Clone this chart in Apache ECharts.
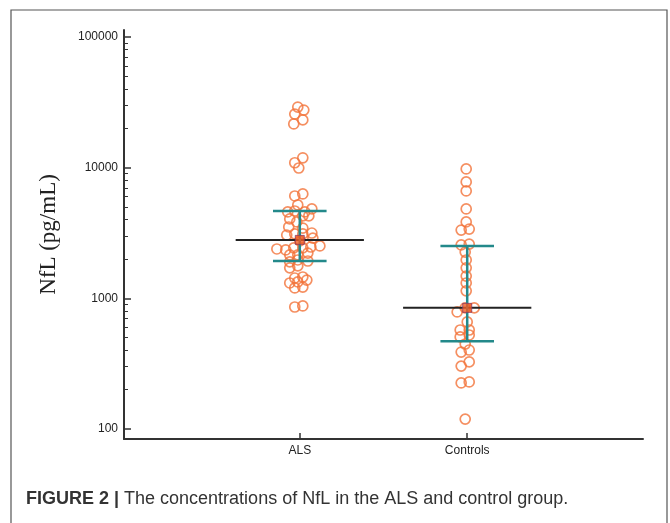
<!DOCTYPE html>
<html>
<head>
<meta charset="utf-8">
<script src="https://cdn.jsdelivr.net/npm/echarts@6/dist/echarts.min.js"></script>
<style>
  html, body { margin: 0; padding: 0; background: #fff; }
  #main { width: 670px; height: 523px; }
</style>
</head>
<body>
<div id="main"></div>
<script>
// groups on the x axis (1 = ALS, 2 = Controls)
var groups = ['ALS', 'Controls'];

// individual NfL values (pg/mL) and horizontal jitter (in group units)
var alsValues = [29100, 27600, 25700, 23200, 21600, 11900, 10900, 9940, 6070, 6290,
    5180, 4580, 4660, 4580, 4830, 4050, 3840, 4270, 4270, 3515,
    3450, 3050, 3110, 3110, 3160, 2890, 2750, 2385, 2344, 2430,
    2430, 2470, 2515, 2150, 2150, 2220, 1900, 1965, 1930, 1710,
    1770, 1430, 1456, 1310, 1334, 1380, 1200, 1220, 858, 874];
var alsJitter = [-0.012, 0.024, -0.03, 0.018, -0.036, 0.018, -0.03, -0.006, -0.03, 0.018,
    -0.012, -0.072, -0.03, 0.03, 0.072, -0.06, -0.018, 0.018, 0.054, -0.066,
    0.018, -0.078, -0.03, 0.018, 0.072, 0.078, 0, -0.137, -0.084, -0.036,
    0.018, 0.066, 0.12, -0.06, -0.012, 0.048, -0.06, -0.012, 0.048, -0.06,
    -0.012, -0.03, 0.018, -0.06, -0.012, 0.042, -0.03, 0.018, -0.03, 0.018];

var ctrlValues = [9770, 7770, 6630, 4830, 3840, 3330, 3390, 2560, 2600, 2260,
    1965, 1710, 1480, 1310, 1140, 844, 844, 786, 659, 572,
    572, 506, 524, 447, 388, 402, 303, 326, 225, 229, 119];
var ctrlJitter = [-0.006, -0.006, -0.006, -0.006, -0.006, -0.036, 0.012, -0.036, 0.012, -0.012,
    -0.006, -0.006, -0.006, -0.006, -0.006, -0.012, 0.042, -0.06, 0, -0.042,
    0.012, -0.042, 0.012, -0.012, -0.036, 0.012, -0.036, 0.012, -0.036, 0.012, -0.012];

// summary statistics per group: median and interquartile range
var medians = [2800, 845];
var q1 = [1930, 470];
var q3 = [4660, 2515];

var majorTicks = [100, 1000, 10000, 100000];
var minorTicks = [];
[100, 1000, 10000].forEach(function (d) {
    for (var k = 2; k <= 9; k++) minorTicks.push(d * k);
});

var ORANGE = '#F3733A';
var TEAL = '#23898A';
var GRID = { left: 124, right: 27, top: 30, bottom: 84 };

function points(values, jitter, g) {
    return values.map(function (v, i) { return [g + jitter[i], v]; });
}

var medianW = 0.383, capW = 0.16;
var summary = [];
groups.forEach(function (name, i) {
    var g = i + 1;
    summary.push({
        type: 'line', symbol: 'none', z: 4,
        lineStyle: { color: '#222', width: 2 },
        data: [[g - medianW, medians[i]], [g + medianW, medians[i]]]
    });
    summary.push({
        type: 'line', symbol: 'none', z: 5, lineStyle: { color: TEAL, width: 2.5 },
        data: [[g - capW, q3[i]], [g + capW, q3[i]]]
    });
    summary.push({
        type: 'line', symbol: 'none', z: 5, lineStyle: { color: TEAL, width: 2.5 },
        data: [[g - capW, q1[i]], [g + capW, q1[i]]]
    });
    summary.push({
        type: 'line', symbol: 'none', z: 5, lineStyle: { color: TEAL, width: 2.5 },
        data: [[g, q1[i]], [g, q3[i]]]
    });
});

var chart = echarts.init(document.getElementById('main'));
chart.setOption({
    animation: false,
    backgroundColor: '#fff',
    grid: [GRID, GRID],
    xAxis: [{
        type: 'value', min: -0.05, max: 3.05,
        splitLine: { show: false },
        axisLine: { onZero: false, lineStyle: { color: '#333', width: 2 } },
        axisTick: { inside: true, length: 6, customValues: [1, 2], lineStyle: { color: '#333', width: 1.5 } },
        axisLabel: {
            customValues: [1, 2], margin: 6,
            color: '#222', fontSize: 12, fontFamily: 'Liberation Sans',
            formatter: function (v) { return groups[Math.round(v) - 1] || ''; }
        }
    }, {
        gridIndex: 1, type: 'value', min: -0.05, max: 3.05, show: false
    }],
    yAxis: [{
        type: 'log', min: 83.8, max: 113100,
        name: 'NfL (pg/mL)', nameLocation: 'middle', nameGap: 64,
        nameTextStyle: { fontFamily: 'Liberation Serif', fontSize: 23, color: '#222' },
        splitLine: { show: false },
        axisLine: { onZero: false, lineStyle: { color: '#333', width: 2 } },
        axisTick: { inside: true, length: 7, customValues: majorTicks, lineStyle: { color: '#333', width: 1.5 } },
        axisLabel: {
            customValues: majorTicks, margin: 6, color: '#222', fontSize: 12, fontFamily: 'Liberation Sans',
            formatter: function (v) { return String(Math.round(v)); }
        }
    }, {
        // minor ticks at 2..9 of each decade, drawn by an overlaid axis in its own grid
        gridIndex: 1, type: 'log', min: 83.8, max: 113100,
        splitLine: { show: false },
        axisLine: { show: false, onZero: false },
        axisTick: { inside: true, length: 4, customValues: minorTicks, lineStyle: { color: '#333', width: 1 } },
        axisLabel: { show: false }
    }],
    series: [{
        type: 'scatter', symbol: 'circle', symbolSize: 10, z: 2,
        itemStyle: { color: 'rgba(255,255,255,0)', borderColor: ORANGE, borderWidth: 1.7 },
        data: points(alsValues, alsJitter, 1)
    }, {
        type: 'scatter', symbol: 'circle', symbolSize: 10, z: 2,
        itemStyle: { color: 'rgba(255,255,255,0)', borderColor: ORANGE, borderWidth: 1.7 },
        data: points(ctrlValues, ctrlJitter, 2)
    }].concat(summary).concat([{
        type: 'scatter', symbol: 'rect', symbolSize: 9, z: 6,
        itemStyle: { color: '#F15A22', borderColor: '#8E3A5E', borderWidth: 1 },
        data: medians.map(function (m, i) { return [i + 1, m]; })
    }]),
    graphic: [{
        type: 'rect', silent: true,
        shape: { x: 11, y: 10, width: 656, height: 530 },
        style: { fill: null, stroke: '#555', lineWidth: 1.2 }
    }, {
        type: 'text', left: 26, top: 490,
        style: {
            text: '{b|FIGURE 2 |} The concentrations of NfL in the ALS and control group.',
            fontFamily: 'Liberation Sans', fontSize: 18, fill: '#333',
            rich: { b: { fontWeight: 'bold', fontFamily: 'Liberation Sans', fontSize: 18, fill: '#333' } }
        }
    }]
});
</script>
</body>
</html>
